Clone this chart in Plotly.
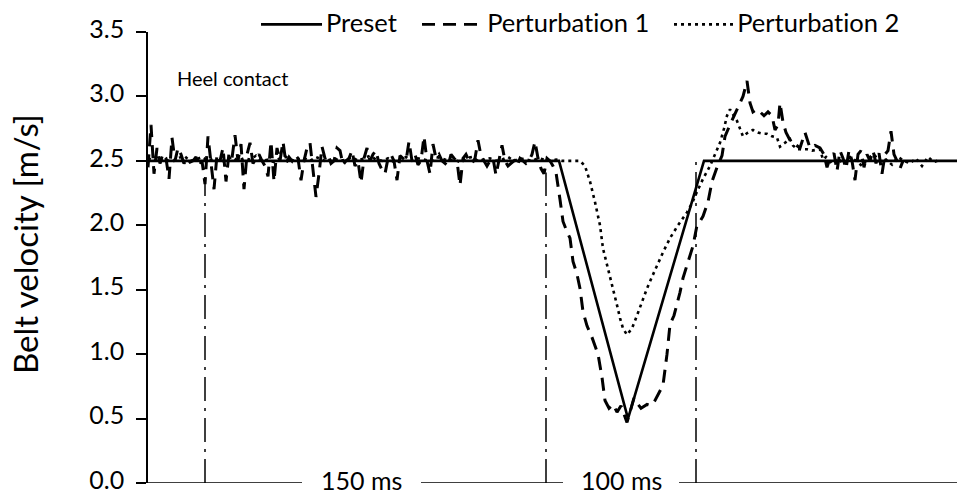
import numpy as np
import plotly.graph_objects as go

# ---------------- data (time axis in samples, velocity in m/s) ----------------
T_END = 809

# Preset belt-velocity profile
preset_t = [0, 411, 480, 556, 809]
preset_v = [2.5, 2.5, 0.5, 2.5, 2.5]

# Perturbation 1: steady-state part (sampled every 3 samples)
p1_steady_step = 3
p1_steady_v = [
    2.45, 2.78, 2.40, 2.60, 2.48, 2.55, 2.52, 2.36, 2.68, 2.50,
    2.60, 2.55, 2.48, 2.52, 2.49, 2.50, 2.53, 2.46, 2.50, 2.32,
    2.69, 2.48, 2.28, 2.55, 2.50, 2.60, 2.34, 2.56, 2.52, 2.70,
    2.50, 2.63, 2.28, 2.55, 2.64, 2.48, 2.52, 2.55, 2.50, 2.46,
    2.38, 2.65, 2.34, 2.60, 2.50, 2.65, 2.48, 2.53, 2.50, 2.55,
    2.52, 2.35, 2.50, 2.60, 2.64, 2.45, 2.22, 2.40, 2.61, 2.52,
    2.55, 2.48, 2.50, 2.60, 2.58, 2.47, 2.50, 2.52, 2.58, 2.46,
    2.50, 2.33, 2.52, 2.60, 2.50, 2.55, 2.58, 2.48, 2.43, 2.40,
    2.52, 2.55, 2.50, 2.35, 2.54, 2.52, 2.50, 2.65, 2.50, 2.55,
    2.47, 2.50, 2.69, 2.50, 2.40, 2.63, 2.52, 2.55, 2.50, 2.48,
    2.46, 2.55, 2.52, 2.50, 2.31, 2.52, 2.55, 2.50, 2.48, 2.52,
    2.66, 2.54, 2.50, 2.46, 2.50, 2.52, 2.39, 2.50, 2.62, 2.50,
    2.46, 2.48, 2.50, 2.46, 2.52, 2.50, 2.48, 2.50, 2.55, 2.65,
    2.52, 2.44, 2.40, 2.52, 2.50, 2.46,
]
# Perturbation 1: perturbation and recovery part
p1_pert_t = [
    408, 412, 415, 419, 422, 425, 429, 432, 435, 439, 444, 450, 454, 457, 461,
    465, 469, 473, 477, 479, 482, 486, 489, 493, 499, 503, 507, 511, 515, 519,
    522, 526, 529, 532, 535, 540, 545, 549, 552, 555, 560, 564, 569, 574, 577,
    582, 589, 595, 599, 602, 605, 609, 612, 616, 620, 624, 627, 630, 632, 635,
    638, 642, 647, 652, 657, 662, 667, 672, 676, 679, 682, 686, 689, 692, 695,
    698, 701, 704, 707, 710, 713, 716, 719, 722, 725, 728, 731, 734, 737, 740,
    743, 746, 749, 752, 755,
]
p1_pert_v = [
    2.41, 2.20, 2.03, 1.95, 1.90, 1.72, 1.62, 1.51, 1.33, 1.22, 1.13, 1.00, 0.82, 0.64, 0.58,
    0.61, 0.55, 0.60, 0.52, 0.47, 0.55, 0.66, 0.62, 0.58, 0.61, 0.60, 0.64, 0.70, 0.76, 1.00,
    1.23, 1.30, 1.38, 1.48, 1.59, 1.72, 1.84, 2.00, 2.03, 2.07, 2.18, 2.34, 2.45, 2.54, 2.69,
    2.78, 2.90, 3.00, 3.12, 2.95, 2.88, 2.90, 2.88, 2.85, 2.88, 2.85, 2.74, 2.78, 2.95, 2.80,
    2.72, 2.66, 2.63, 2.60, 2.72, 2.60, 2.62, 2.60, 2.55, 2.45, 2.52, 2.56, 2.42, 2.58, 2.52,
    2.44, 2.58, 2.50, 2.35, 2.55, 2.58, 2.45, 2.55, 2.50, 2.58, 2.48, 2.56, 2.40, 2.55, 2.58,
    2.73, 2.55, 2.50, 2.44, 2.50,
]

# Perturbation 2: steady-state part (sampled every 6 samples)
p2_steady_step = 6
p2_steady_v = [
    2.52, 2.50, 2.53, 2.51, 2.49, 2.52, 2.54, 2.50, 2.51, 2.53,
    2.50, 2.52, 2.49, 2.51, 2.53, 2.50, 2.52, 2.51, 2.54, 2.50,
    2.51, 2.49, 2.52, 2.53, 2.50, 2.51, 2.52, 2.50, 2.53, 2.51,
    2.49, 2.52, 2.50, 2.51, 2.53, 2.50, 2.52, 2.54, 2.51, 2.50,
    2.52, 2.49, 2.51, 2.53, 2.50, 2.52, 2.51, 2.50, 2.53, 2.52,
    2.50, 2.51, 2.49, 2.52, 2.53, 2.50, 2.51, 2.52, 2.50, 2.51,
    2.53, 2.50, 2.52, 2.51, 2.50, 2.52, 2.51, 2.50, 2.51, 2.50,
    2.50, 2.50,
]
# Perturbation 2: perturbation and recovery part
p2_pert_t = [
    432, 437, 442, 447, 452, 455, 459, 462, 466, 469, 472, 475, 479, 484, 489,
    494, 499, 504, 509, 515, 522, 530, 539, 544, 549, 555, 562, 567, 572, 576,
    579, 582, 585, 589, 592, 595, 600, 605, 610, 615, 619, 624, 629, 632, 637,
    642, 645, 649, 654, 659, 664, 669, 672, 675, 678,
    684, 690, 696, 702, 708, 714, 720, 726, 732, 738, 744, 750, 756, 762, 768,
    774, 780, 786, 792,
]
p2_pert_v = [
    2.50, 2.46, 2.34, 2.18, 2.00, 1.82, 1.70, 1.61, 1.48, 1.38, 1.28, 1.20, 1.15, 1.20, 1.30,
    1.41, 1.51, 1.60, 1.69, 1.79, 1.90, 2.00, 2.10, 2.17, 2.26, 2.36, 2.46, 2.55, 2.64, 2.75,
    2.85, 2.90, 2.86, 2.81, 2.75, 2.69, 2.72, 2.74, 2.72, 2.71, 2.71, 2.69, 2.68, 2.61, 2.64,
    2.67, 2.62, 2.59, 2.59, 2.59, 2.58, 2.59, 2.59, 2.51, 2.53,
    2.48, 2.52, 2.47, 2.53, 2.50, 2.46, 2.52, 2.55, 2.49, 2.51, 2.47, 2.53, 2.50, 2.48, 2.52,
    2.46, 2.53, 2.49, 2.51,
]

# Event markers (dash-dot verticals) and their top values
event_t = [57, 398, 548]
event_top = [2.36, 2.41, 2.52]

# Bottom time-interval bar segments and labels
interval_segments = [(0, 154), (273, 415), (531, 809)]
interval_labels = ["150 ms", "100 ms"]
interval_label_t = [213.5, 473]

y_ticks = [0.0, 0.5, 1.0, 1.5, 2.0, 2.5, 3.0, 3.5]
series_names = ["Preset", "Perturbation 1", "Perturbation 2"]

# ---------------- assemble series ----------------
p1_t = list(np.arange(len(p1_steady_v)) * p1_steady_step) + p1_pert_t
p1_v = p1_steady_v + p1_pert_v
p2_t = list(np.arange(len(p2_steady_v)) * p2_steady_step) + p2_pert_t
p2_v = p2_steady_v + p2_pert_v

FONT = "Lato"
DASH = "13px,8px"
DOT = "3px,4px"
DASHDOT = "24px,7px,3px,7px"

fig = go.Figure()
fig.add_trace(go.Scatter(x=p2_t, y=p2_v, mode="lines", name=series_names[2],
                         line=dict(color="black", width=2.6, dash=DOT), showlegend=False))
fig.add_trace(go.Scatter(x=p1_t, y=p1_v, mode="lines", name=series_names[1],
                         line=dict(color="black", width=3, dash=DASH), showlegend=False))
fig.add_trace(go.Scatter(x=preset_t, y=preset_v, mode="lines", name=series_names[0],
                         line=dict(color="black", width=2.6), showlegend=False))

shapes = []
for t, top in zip(event_t, event_top):
    shapes.append(dict(type="line", xref="x", yref="y", x0=t, x1=t, y0=0, y1=top,
                       line=dict(color="black", width=1.5, dash=DASHDOT)))
for a, b in interval_segments:
    shapes.append(dict(type="line", xref="x", yref="y", x0=a, x1=b, y0=0, y1=0,
                       line=dict(color="black", width=1.6)))

# manual legend (paper coordinates)
LEG_Y = 1.022
legend_items = [
    (0.1397, 0.2151, "solid"),
    (0.3387, 0.4141, DASH),
    (0.6502, 0.7231, DOT),
]
annotations = []
for (x0, x1, dash), name in zip(legend_items, series_names):
    shapes.append(dict(type="line", xref="paper", yref="paper", x0=x0, x1=x1,
                       y0=LEG_Y - 0.005, y1=LEG_Y - 0.005,
                       line=dict(color="black", width=2.6, dash=dash)))
    annotations.append(dict(xref="paper", yref="paper", x=x1 + 0.002, y=LEG_Y,
                            xanchor="left", yanchor="middle", showarrow=False,
                            text=name, font=dict(family=FONT, size=25.5, color="black")))

for t, lab in zip(interval_label_t, interval_labels):
    annotations.append(dict(xref="x", yref="y", x=t, y=0, xanchor="center", yanchor="middle",
                            yshift=3, showarrow=False, text=lab,
                            font=dict(family=FONT, size=25, color="black")))

annotations.append(dict(xref="x", yref="y", x=27, y=3.14, xanchor="left", yanchor="middle",
                        showarrow=False, text="Heel contact",
                        font=dict(family=FONT, size=20, color="black")))

annotations.append(dict(xref="paper", yref="paper", x=-0.152, y=0.53,
                        xanchor="center", yanchor="middle", textangle=-90,
                        showarrow=False, text="Belt velocity [m/s]",
                        font=dict(family=FONT, size=33, color="black")))

fig.update_layout(
    width=957, height=496,
    margin=dict(l=148, r=0, t=32, b=13),
    paper_bgcolor="white", plot_bgcolor="white",
    showlegend=False,
    shapes=shapes, annotations=annotations,
    font=dict(family=FONT, color="black"),
    xaxis=dict(range=[0, T_END], visible=False),
    yaxis=dict(range=[0, 3.5], tickvals=y_ticks, tickformat=".1f",
               ticks="outside", ticklen=10, tickwidth=1.5, tickcolor="black",
               showline=True, linewidth=1.5, linecolor="black",
               showgrid=False, zeroline=False, ticklabelstandoff=7, automargin=False,
               ticklabeloverflow="allow", ticklabelshift=-3,
               tickfont=dict(family=FONT, size=25, color="black")),
)

post = ("var s=document.createElement('style');"
        "s.innerHTML='html,body{margin:0;padding:0;overflow:hidden} "
        "svg text{font-variant-ligatures:none !important;font-feature-settings:\"liga\" 0 !important}';"
        "document.head.appendChild(s);")
fig.write_html("out.html", post_script=post, config={"displayModeBar": False})
